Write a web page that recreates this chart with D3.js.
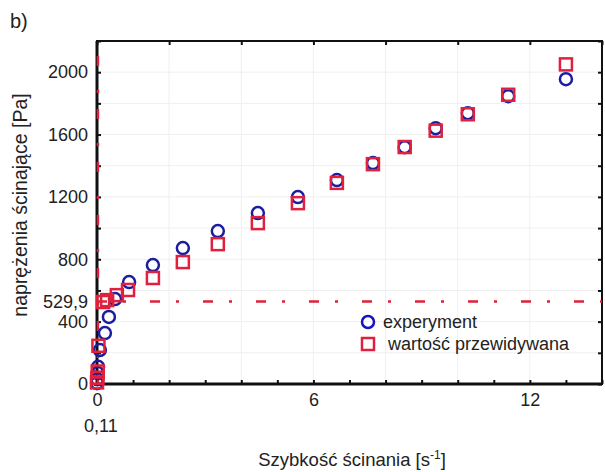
<!DOCTYPE html>
<html>
<head>
<meta charset="utf-8">
<script src="https://cdn.jsdelivr.net/npm/d3@7"></script>
<style>
  body { margin: 0; background: #fff; }
  text { font-family: "Liberation Sans", Arial, sans-serif; fill: #222; }
</style>
</head>
<body>
<div id="chart-area"></div>
<script>
// experiment (circles)
const expX = [0.0, 0.01, 0.02, 0.03, 0.08, 0.22, 0.33, 0.5, 0.89, 1.55, 2.38, 3.35, 4.46, 5.57, 6.65, 7.65, 8.53, 9.39, 10.28, 11.4, 13.0];
const expY = [5, 30, 70, 110, 218, 327, 430, 545, 654, 763, 872, 981, 1096, 1199, 1308, 1417, 1519, 1641, 1737, 1846, 1955];
// predicted (squares)
const predX = [0.0, 0.01, 0.02, 0.04, 0.17, 0.28, 0.55, 0.86, 1.55, 2.38, 3.35, 4.46, 5.57, 6.65, 7.65, 8.53, 9.39, 10.28, 11.4, 13.0];
const predY = [10, 40, 80, 245, 526, 538, 570, 603, 680, 782, 897, 1032, 1160, 1290, 1410, 1520, 1625, 1730, 1855, 2050];

const yieldStress = 529.9;
const gammaC = 0.11;
const yTickLabels = [0, 400, 529.9, 800, 1200, 1600, 2000];
const xTickLabels = [0, 6, 12];

const w = 605;
const h = 472;

const xScale = d3.scaleLinear().domain([0, 14]).range([97, 602]);
const yScale = d3.scaleLinear().domain([0, 2200]).range([384, 41]);

const svg = d3.select("#chart-area")
    .append("svg")
    .attr("width", w)
    .attr("height", h);

// faint grid
svg.append("g")
    .selectAll("line")
    .data(d3.range(2, 14, 2))
    .enter()
    .append("line")
    .attr("x1", d => xScale(d)).attr("x2", d => xScale(d))
    .attr("y1", yScale(2200)).attr("y2", yScale(0))
    .style("stroke", "#efefef");

svg.append("g")
    .selectAll("line")
    .data(d3.range(200, 2200, 200))
    .enter()
    .append("line")
    .attr("x1", xScale(0)).attr("x2", xScale(14))
    .attr("y1", d => yScale(d)).attr("y2", d => yScale(d))
    .style("stroke", "#efefef");

// inward tick marks
const tickFmt = () => "";
svg.append("g")
    .attr("transform", "translate(0," + yScale(0) + ")")
    .call(d3.axisTop(xScale).tickValues(d3.range(0, 15, 1)).tickSize(4).tickFormat(tickFmt))
    .call(g => g.select(".domain").remove());
svg.append("g")
    .attr("transform", "translate(0," + yScale(2200) + ")")
    .call(d3.axisBottom(xScale).tickValues(d3.range(0, 15, 2)).tickSize(4).tickFormat(tickFmt))
    .call(g => g.select(".domain").remove());
svg.append("g")
    .attr("transform", "translate(" + xScale(0) + ",0)")
    .call(d3.axisRight(yScale).tickValues(d3.range(0, 2201, 200)).tickSize(4).tickFormat(tickFmt))
    .call(g => g.select(".domain").remove());
svg.append("g")
    .attr("transform", "translate(" + xScale(14) + ",0)")
    .call(d3.axisLeft(yScale).tickValues(d3.range(0, 2201, 200)).tickSize(4).tickFormat(tickFmt))
    .call(g => g.select(".domain").remove());
svg.selectAll(".tick line").style("stroke", "#111").style("stroke-width", 2);

// frame
svg.append("rect")
    .attr("x", xScale(0))
    .attr("y", yScale(2200))
    .attr("width", xScale(14) - xScale(0))
    .attr("height", yScale(0) - yScale(2200))
    .style("fill", "none")
    .style("stroke", "#111")
    .style("stroke-width", 2);
svg.append("line")
    .attr("x1", xScale(0)).attr("x2", xScale(0))
    .attr("y1", yScale(2200)).attr("y2", yScale(0) + 1)
    .style("stroke", "#111").style("stroke-width", 3);
svg.append("line")
    .attr("x1", xScale(0) - 1).attr("x2", xScale(14))
    .attr("y1", yScale(0)).attr("y2", yScale(0))
    .style("stroke", "#111").style("stroke-width", 3);

// dash-dot reference lines
svg.append("line")
    .attr("x1", xScale(0)).attr("x2", xScale(14))
    .attr("y1", yScale(yieldStress)).attr("y2", yScale(yieldStress))
    .style("stroke", "#e0203c")
    .style("stroke-width", 2.5)
    .style("stroke-dasharray", "10,16,3,24");
svg.append("line")
    .attr("x1", xScale(gammaC) - 3).attr("x2", xScale(gammaC) - 3)
    .attr("y1", yScale(0)).attr("y2", yScale(2200))
    .style("stroke", "#e0203c")
    .style("stroke-width", 2.5)
    .style("stroke-dasharray", "10,16,3,24");

// y tick labels
const yLabelAxis = d3.axisLeft(yScale)
    .tickValues(yTickLabels)
    .tickSize(0)
    .tickPadding(9)
    .tickFormat(d => String(d).replace(".", ","));
svg.append("g")
    .attr("transform", "translate(" + xScale(0) + ",0)")
    .call(yLabelAxis)
    .call(g => g.select(".domain").remove())
    .selectAll("text")
    .style("font-size", "18px")
    .style("font-family", "Liberation Sans, Arial, sans-serif")
    .style("fill", "#222");

// x tick labels
const xLabelAxis = d3.axisBottom(xScale)
    .tickValues(xTickLabels)
    .tickSize(0)
    .tickPadding(9)
    .tickFormat(d3.format("d"));
svg.append("g")
    .attr("transform", "translate(0," + yScale(0) + ")")
    .call(xLabelAxis)
    .call(g => g.select(".domain").remove())
    .selectAll("text")
    .style("font-size", "18px")
    .style("font-family", "Liberation Sans, Arial, sans-serif")
    .style("fill", "#222");

svg.append("text")
    .attr("x", xScale(gammaC))
    .attr("y", 432)
    .attr("text-anchor", "middle")
    .style("font-size", "18px")
    .text(String(gammaC).replace(".", ","));

// data marks
svg.append("g")
    .selectAll("circle")
    .data(expX)
    .enter()
    .append("circle")
    .attr("cx", (d, i) => xScale(expX[i]))
    .attr("cy", (d, i) => yScale(expY[i]))
    .attr("r", 6)
    .style("fill", "none")
    .style("stroke", "#1c1ca0")
    .style("stroke-width", 2.5);

const sq = 12;
svg.append("g")
    .selectAll("rect")
    .data(predX)
    .enter()
    .append("rect")
    .attr("x", (d, i) => xScale(predX[i]) - sq / 2)
    .attr("y", (d, i) => yScale(predY[i]) - sq / 2)
    .attr("width", sq)
    .attr("height", sq)
    .style("fill", "none")
    .style("stroke", "#e0203c")
    .style("stroke-width", 2.5);

// legend
const legend = svg.append("g").attr("id", "legend");
legend.append("circle")
    .attr("cx", 368).attr("cy", 322).attr("r", 6)
    .style("fill", "none").style("stroke", "#1414c0").style("stroke-width", 2.5);
legend.append("text")
    .attr("x", 383).attr("y", 328)
    .style("font-size", "18px")
    .text("experyment");
legend.append("rect")
    .attr("x", 362).attr("y", 338).attr("width", 12).attr("height", 12)
    .style("fill", "none").style("stroke", "#e0203c").style("stroke-width", 2.5);
legend.append("text")
    .attr("x", 388).attr("y", 350)
    .style("font-size", "18px")
    .text("wartość przewidywana");

// axis titles
const xTitle = svg.append("text")
    .attr("x", 352)
    .attr("y", 466)
    .attr("text-anchor", "middle")
    .style("font-size", "18.5px")
    .text("Szybkość ścinania [s");
xTitle.append("tspan")
    .attr("dy", -7)
    .style("font-size", "12px")
    .text("-1");
xTitle.append("tspan")
    .attr("dy", 7)
    .text("]");

svg.append("text")
    .attr("transform", "translate(27,205) rotate(-90)")
    .attr("text-anchor", "middle")
    .style("font-size", "19.5px")
    .text("naprężenia ścinające [Pa]");

svg.append("text")
    .attr("x", 10)
    .attr("y", 28)
    .style("font-size", "20px")
    .text("b)");
</script>
</body>
</html>
